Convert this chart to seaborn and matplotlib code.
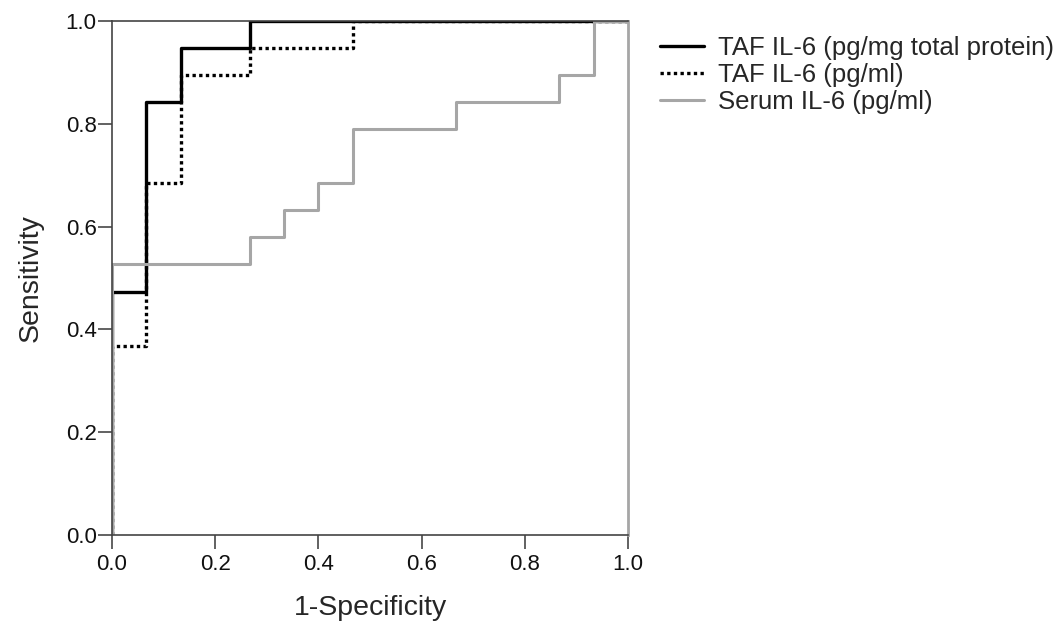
import matplotlib
matplotlib.use("Agg")
import matplotlib.pyplot as plt
import seaborn as sns
import pandas as pd

# ROC points (1-Specificity, Sensitivity), steps-post
taf_prot_fpr = [0.0, 0.0, 1/15, 2/15, 4/15, 1.0]
taf_prot_tpr = [0.0, 9/19, 16/19, 18/19, 1.0, 1.0]

taf_ml_fpr = [0.0, 0.0, 1/15, 2/15, 4/15, 7/15, 1.0]
taf_ml_tpr = [0.0, 7/19, 13/19, 17/19, 18/19, 1.0, 1.0]

serum_fpr = [0.0, 0.0, 4/15, 5/15, 6/15, 7/15, 10/15, 13/15, 14/15, 1.0]
serum_tpr = [0.0, 10/19, 11/19, 12/19, 13/19, 15/19, 16/19, 17/19, 1.0, 1.0]

labels = ["TAF IL-6 (pg/mg total protein)", "TAF IL-6 (pg/ml)", "Serum IL-6 (pg/ml)"]
ticks = [0.0, 0.2, 0.4, 0.6, 0.8, 1.0]

sns.set_style("white")
plt.rcParams['font.family'] = ['Liberation Sans', 'DejaVu Sans']

fig = plt.figure(figsize=(10.61, 6.28), dpi=100)
ax = fig.add_axes([112/1061, 1-535/628, (628-112)/1061, (535-21)/628])

styles = [
    dict(color="black", linewidth=2.4, linestyle="-"),
    dict(color="black", linewidth=2.4, linestyle=(0, (1, 1))),
    dict(color="#a6a6a6", linewidth=2.2, linestyle="-"),
]
data = [(taf_prot_fpr, taf_prot_tpr), (taf_ml_fpr, taf_ml_tpr), (serum_fpr, serum_tpr)]
for (fx, ty), lab, st in zip(data, labels, styles):
    df = pd.DataFrame({"x": fx, "y": ty})
    sns.lineplot(data=df, x="x", y="y", sort=False, estimator=None, ax=ax,
                 drawstyle="steps-post", label=lab, **st)

ax.set_xlim(0, 1)
ax.set_ylim(0, 1)
ax.set_xticks(ticks)
ax.set_yticks(ticks)
ax.set_xticklabels([f"{t:.1f}" for t in ticks])
ax.set_yticklabels([f"{t:.1f}" for t in ticks])
ax.tick_params(axis="both", direction="out", length=10, width=1.3, color="#555555",
               labelsize=16, bottom=True, left=True, labelcolor="#111111")
ax.tick_params(axis="x", pad=4)
ax.tick_params(axis="y", pad=1)
for s in ["left", "bottom", "top"]:
    ax.spines[s].set_color("#444444")
    ax.spines[s].set_linewidth(1.2)
ax.spines["right"].set_color("#a6a6a6")
ax.spines["right"].set_linewidth(2.0)
ax.set_xlabel("1-Specificity", fontsize=20.5, labelpad=14)
ax.set_ylabel("Sensitivity", fontsize=20.5, labelpad=16)

ax.legend(loc="upper left", bbox_to_anchor=(660/1061, 1-36/628), bbox_transform=fig.transFigure,
          frameon=False, fontsize=18.5, handlelength=1.7, handletextpad=0.55,
          labelspacing=0.12, borderaxespad=0, borderpad=0)

fig.savefig("out.png", dpi=100)
